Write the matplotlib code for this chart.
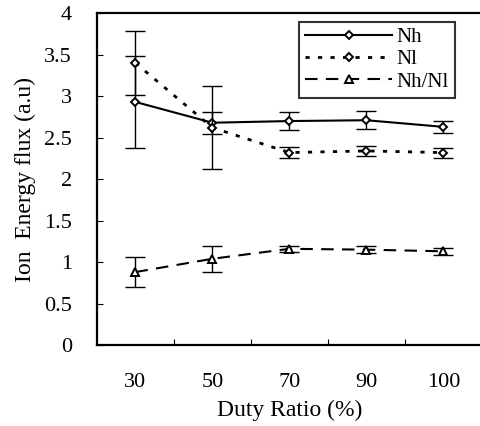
import matplotlib
matplotlib.use("Agg")
import matplotlib.pyplot as plt
import numpy as np

categories = ["30", "50", "70", "90", "100"]
nh = [2.93, 2.68, 2.70, 2.71, 2.63]
nh_err = [0.55, 0.13, 0.11, 0.11, 0.07]
nl = [3.40, 2.62, 2.32, 2.34, 2.32]
nl_err = [0.38, 0.50, 0.07, 0.06, 0.06]
ratio = [0.88, 1.04, 1.16, 1.15, 1.13]
ratio_err = [0.18, 0.16, 0.04, 0.04, 0.04]
yticks = [0, 0.5, 1, 1.5, 2, 2.5, 3, 3.5, 4]
ytick_labels = ["0", "0.5", "1", "1.5", "2", "2.5", "3", "3.5", "4"]

plt.rcParams['font.family'] = ['Liberation Serif', 'DejaVu Serif']

fig = plt.figure(figsize=(4.8, 4.26), dpi=100)
ax = fig.add_axes([0.202, 0.190, 0.802, 0.779])
x = np.arange(len(categories))

styles = [
    dict(data=nh, err=nh_err, label='Nh', marker='D', ms=4.5, lw=1.5, dashes=None),
    dict(data=nl, err=nl_err, label='Nl', marker='D', ms=4.5, lw=2.0, dashes=(1.5, 3)),
    dict(data=ratio, err=ratio_err, label='Nh/Nl', marker='^', ms=5.5, lw=1.5, dashes=(6, 4)),
]
handles = []
for st in styles:
    ax.errorbar(x, st['data'], yerr=st['err'], fmt='none', ecolor='black',
                elinewidth=1.0, capsize=7, capthick=1.0)
    kw = dict(color='black', linestyle='-', linewidth=st['lw'],
              marker=st['marker'], markersize=st['ms'], markerfacecolor='white',
              markeredgecolor='black', markeredgewidth=1.4, label=st['label'])
    if st['dashes'] is not None:
        kw['linestyle'] = '--'
        kw['dashes'] = st['dashes']
    line, = ax.plot(x, st['data'], **kw)
    handles.append(line)

ax.set_xlim(-0.5, 4.5)
ax.set_ylim(0, 4)
ax.set_yticks(yticks)
ax.set_yticklabels(ytick_labels)
ax.tick_params(axis='y', direction='in', length=4, labelsize=16, pad=18)

ax.set_xticks(x[:-1] + 0.5)
ax.set_xticklabels([])
ax.set_xticks(x, minor=True)
ax.set_xticklabels(categories, minor=True)
ax.tick_params(axis='x', which='major', direction='in', length=4)
ax.tick_params(axis='x', which='minor', length=0, labelsize=16, pad=20)

for s in ['left', 'bottom', 'top']:
    ax.spines[s].set_linewidth(1.6)
ax.spines['right'].set_visible(False)

ax.set_xlabel('Duty Ratio (%)', fontsize=17, labelpad=6)
ax.set_ylabel('Ion  Energy flux (a.u)', fontsize=17, labelpad=6)

leg = ax.legend(handles=handles, loc='upper right', bbox_to_anchor=(0.93, 0.975),
                fontsize=15, frameon=True, fancybox=False, edgecolor='black',
                handlelength=4.2, borderpad=0.3, labelspacing=0.12,
                handletextpad=0.2, borderaxespad=0.0)
leg.get_frame().set_linewidth(1.5)

fig.savefig('out.png', dpi=100)
